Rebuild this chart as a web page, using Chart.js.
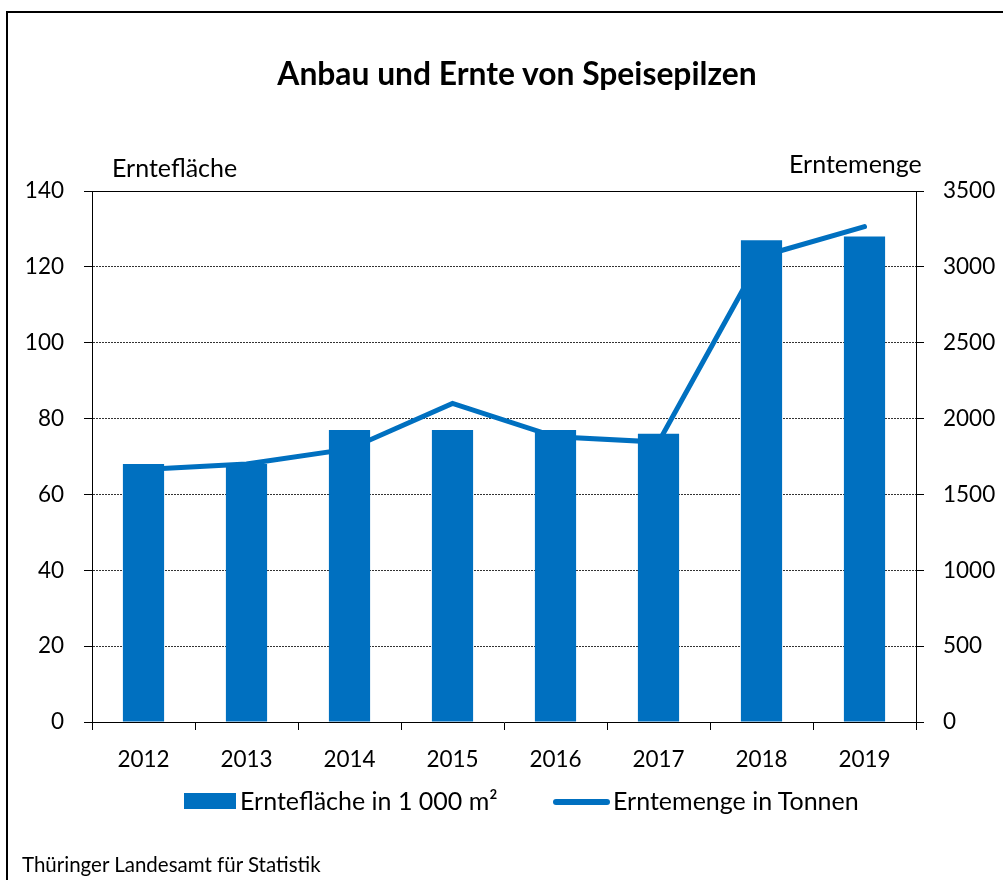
<!DOCTYPE html>
<html>
<head>
<meta charset="utf-8">
<script src="https://cdn.jsdelivr.net/npm/chart.js@4.4.1/dist/chart.umd.min.js"></script>
<style>
  body { margin: 0; background: #fff; width: 1003px; height: 880px; overflow: hidden; position: relative; font-family: Lato, sans-serif; color: #000; }
  #frame { position: absolute; left: 6px; top: 11px; width: 1100px; height: 1000px; border-left: 2px solid #000; border-top: 2px solid #000; }
  #c { position: absolute; left: 0; top: 0; }
  .t { position: absolute; white-space: nowrap; line-height: 1; }
</style>
</head>
<body>
<div id="frame"></div>
<canvas id="c" width="1003" height="880"></canvas>
<div class="t" id="title" style="left:517px;transform:translateX(-50%);top:58px;font-size:31.8px;font-weight:bold">Anbau und Ernte von Speisepilzen</div>
<div class="t" id="yl" style="left:112px;top:155px;font-size:25px">Erntefläche</div>
<div class="t" id="yr" style="left:789px;top:151px;font-size:25px">Erntemenge</div>
<div id="legend"></div>
<div class="t" style="left:22px;top:854px;font-size:20.5px">Thüringer Landesamt für Statistik</div>

<script>
const years = ['2012', '2013', '2014', '2015', '2016', '2017', '2018', '2019'];
const flaeche = [68, 68, 77, 77, 77, 76, 127, 128];   // Erntefläche in 1 000 m²
const menge = [1665, 1700, 1800, 2100, 1880, 1845, 3070, 3265]; // Erntemenge in Tonnen
const leftMax = 140, leftStep = 20;
const rightMax = 3500, rightStep = 500;

const blue = '#0070c0';
Chart.defaults.font.family = 'Lato, sans-serif';
Chart.defaults.font.size = 22.5;
Chart.defaults.color = '#000';

// obere Rahmenlinie des Plotbereichs
const topLine = {
  id: 'topLine',
  afterDraw(chart) {
    const { ctx, chartArea } = chart;
    ctx.save();
    ctx.strokeStyle = '#000';
    ctx.lineWidth = 1;
    ctx.beginPath();
    ctx.moveTo(chartArea.left - 8, Math.round(chartArea.top) + 0.5);
    ctx.lineTo(chartArea.right + 8, Math.round(chartArea.top) + 0.5);
    ctx.stroke();
    ctx.restore();
  }
};

const chart = new Chart(document.getElementById('c'), {
  type: 'bar',
  data: {
    labels: years,
    datasets: [
      {
        type: 'bar',
        label: 'Erntefläche in 1 000 m²',
        data: flaeche,
        backgroundColor: blue,
        yAxisID: 'y',
        barPercentage: 0.4,
        categoryPercentage: 1,
        order: 0
      },
      {
        type: 'line',
        label: 'Erntemenge in Tonnen',
        data: menge,
        borderColor: blue,
        backgroundColor: blue,
        borderWidth: 5,
        pointRadius: 0,
        borderCapStyle: 'round',
        tension: 0,
        yAxisID: 'y1',
        order: 1
      }
    ]
  },
  options: {
    responsive: false,
    animation: false,
    layout: { padding: { top: 191, left: 0, right: 0, bottom: 0 } },
    plugins: { legend: { display: false }, tooltip: { enabled: false } },
    scales: {
      x: {
        afterFit: s => { s.height = 158; },
        grid: { display: true, offset: true, drawOnChartArea: false, drawTicks: true, tickLength: 8, tickColor: '#000' },
        border: { display: true, color: '#000', width: 1 },
        ticks: { padding: 16 }
      },
      y: {
        position: 'left',
        min: 0, max: leftMax,
        afterFit: s => { s.width = 92; },
        ticks: { stepSize: leftStep, padding: 20 },
        grid: {
          color: c => (c.tick && (c.tick.value === 0 || c.tick.value === leftMax)) ? 'rgba(0,0,0,0)' : '#333',
          tickColor: '#000', tickLength: 8, tickBorderDash: []
        },
        border: { display: true, color: '#000', width: 1, dash: [2, 1] }
      },
      y1: {
        position: 'right',
        min: 0, max: rightMax,
        afterFit: s => { s.width = 87; },
        ticks: { stepSize: rightStep, padding: 19, callback: v => String(v) },
        grid: { drawOnChartArea: false, tickColor: '#000', tickLength: 8 },
        border: { display: true, color: '#000', width: 1 }
      }
    }
  },
  plugins: [topLine]
});

// Legende aus den Datensätzen
const lg = document.getElementById('legend');
const ds = chart.data.datasets;
lg.innerHTML =
  '<div style="position:absolute;left:184px;top:793px;width:52px;height:16px;background:' + ds[0].backgroundColor + '"></div>' +
  '<div class="t" style="left:240px;top:788px;font-size:25px">' + ds[0].label + '</div>' +
  '<div style="position:absolute;left:553px;top:799px;width:57px;height:6px;border-radius:3px;background:' + ds[1].borderColor + '"></div>' +
  '<div class="t" style="left:613px;top:788px;font-size:25px">' + ds[1].label + '</div>';
</script>
</body>
</html>
